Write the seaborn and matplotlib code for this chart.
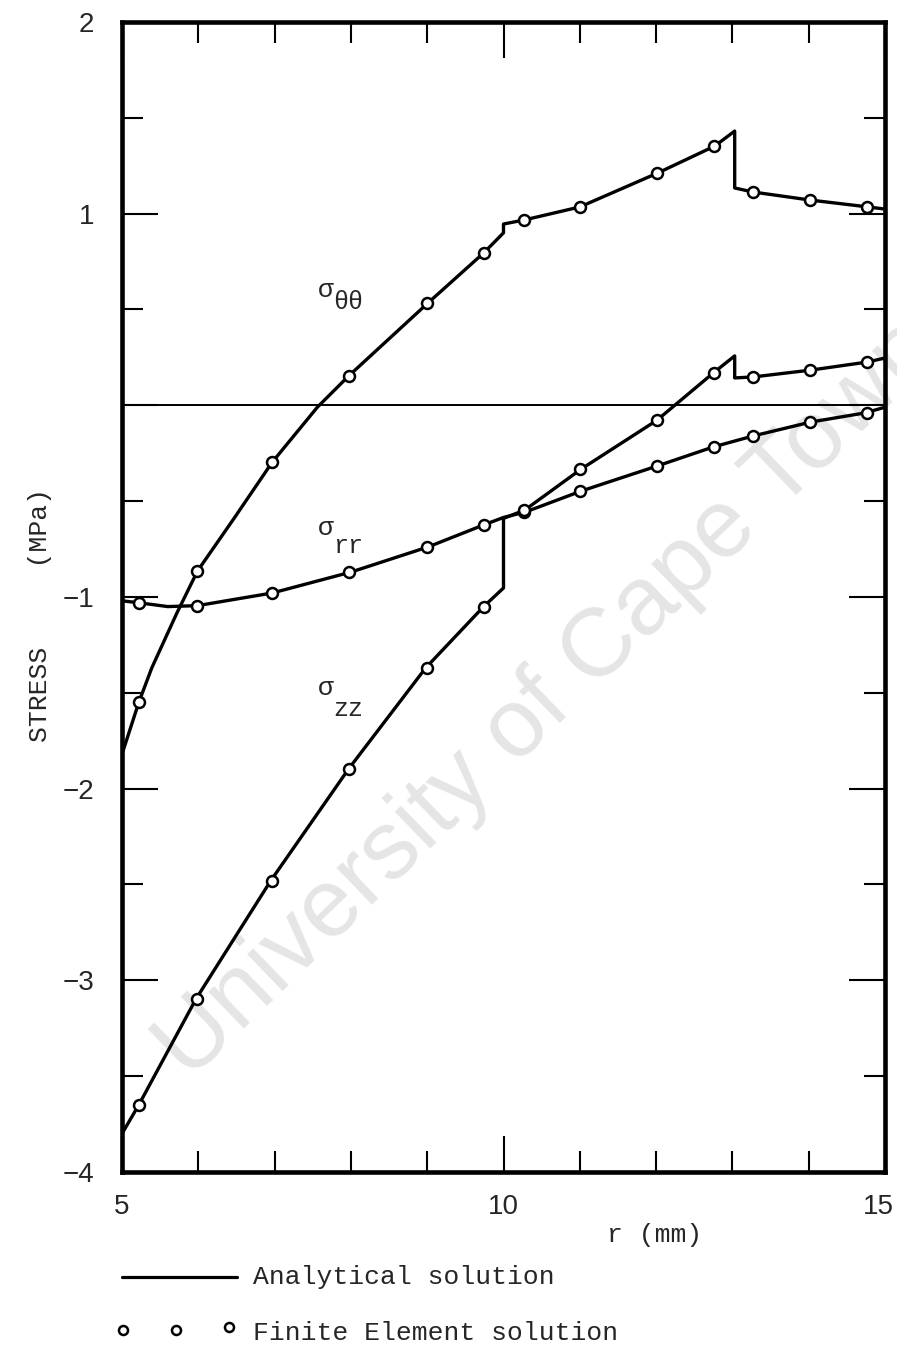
import numpy as np
import pandas as pd
import matplotlib
matplotlib.use("Agg")
import matplotlib.pyplot as plt
import seaborn as sns
from matplotlib.ticker import FixedLocator, MultipleLocator
from matplotlib.transforms import ScaledTranslation

# ---- analytical solution (r in mm, stress in MPa) ----
r_tt = [5.0, 5.22, 5.39, 5.72, 5.99, 6.48, 6.97, 7.56, 7.97, 9.01, 9.74, 10.0, 10.0,
        10.27, 11.0, 12.02, 12.77, 13.03, 13.03, 13.27, 14.02, 14.78, 15.0]
s_tt = [-1.82, -1.55, -1.37, -1.083, -0.864, -0.583, -0.296, -0.01, 0.153, 0.534, 0.795,
        0.90, 0.946, 0.967, 1.035, 1.212, 1.353, 1.431, 1.134, 1.113, 1.071, 1.035, 1.024]

r_rr = [5.0, 5.22, 5.6, 5.99, 6.97, 8.0, 9.01, 9.74, 10.0, 10.29, 11.02, 12.01, 12.75,
        13.27, 14.03, 14.73, 15.0]
s_rr = [-1.02, -1.03, -1.05, -1.045, -0.979, -0.87, -0.739, -0.624, -0.585, -0.556,
        -0.447, -0.317, -0.217, -0.16, -0.087, -0.04, -0.01]

r_zz = [5.0, 5.22, 5.97, 6.95, 7.97, 8.98, 9.74, 10.0, 10.0, 10.28, 11.02, 12.01, 12.75,
        13.03, 13.03, 13.27, 14.03, 14.77, 15.0]
s_zz = [-3.80, -3.65, -3.097, -2.48, -1.897, -1.37, -1.05, -0.953, -0.59, -0.546, -0.332,
        -0.078, 0.169, 0.258, 0.143, 0.148, 0.184, 0.226, 0.247]

# ---- finite element solution ----
r_fe = [5.22, 5.98, 6.97, 7.97, 9.0, 9.74, 10.27, 11.0, 12.01, 12.76, 13.27, 14.02, 14.77]
fe_tt = [-1.55, -0.864, -0.296, 0.153, 0.534, 0.795, 0.967, 1.035, 1.212, 1.353, 1.113,
         1.071, 1.035]
fe_rr = [-1.03, -1.047, -0.979, -0.87, -0.739, -0.624, -0.556, -0.447, -0.317, -0.217,
         -0.16, -0.087, -0.04]
fe_zz = [-3.65, -3.097, -2.48, -1.897, -1.37, -1.05, -0.546, -0.332, -0.078, 0.169, 0.148,
         0.184, 0.226]

y_ticks = [-4, -3, -2, -1, 0, 1, 2]
y_ticklabels = ["\u22124", "\u22123", "\u22122", "\u22121", "", "1", "2"]
x_ticks = [5, 10, 15]
x_ticklabels = ["5", "10", "15"]

sns.set_style("white")
plt.rcParams["font.family"] = ["Liberation Mono", "DejaVu Sans Mono"]
NUM_FONT = ["Liberation Sans Narrow", "Liberation Sans", "DejaVu Sans"]
MONO = ["Liberation Mono", "DejaVu Sans Mono"]

W, H = 897, 1350
fig = plt.figure(figsize=(W / 100, H / 100), dpi=100)
fig.patch.set_facecolor("white")
ax = fig.add_axes([122 / W, 1 - 1172 / H, (885 - 122) / W, (1172 - 22) / H])
ax.set_facecolor("white")

# analytical curves
for r, s in [(r_tt, s_tt), (r_rr, s_rr), (r_zz, s_zz)]:
    sns.lineplot(x=r, y=s, ax=ax, estimator=None, sort=False, color="black",
                 linewidth=2.4, zorder=2)

# finite element points
for fe in [fe_tt, fe_rr, fe_zz]:
    sns.scatterplot(x=r_fe, y=fe, ax=ax, marker="o", s=62, facecolor="white",
                    edgecolor="black", linewidth=1.8, zorder=3)

ax.axhline(0, color="black", linewidth=1.4, zorder=1)

ax.set_xlim(5, 15)
ax.set_ylim(-4, 2)
for sp in ax.spines.values():
    sp.set_linewidth(3.3)
    sp.set_color("black")

ax.xaxis.set_major_locator(FixedLocator(x_ticks))
ax.xaxis.set_minor_locator(MultipleLocator(1))
ax.yaxis.set_major_locator(FixedLocator(y_ticks))
ax.yaxis.set_minor_locator(MultipleLocator(0.5))
ax.set_xticklabels(x_ticklabels, fontfamily=NUM_FONT, fontsize=20)
ax.set_yticklabels(y_ticklabels, fontfamily=NUM_FONT, fontsize=20)
ax.tick_params(which="both", direction="in", bottom=True, left=True, top=True,
               right=True, width=1.5, color="black")
ax.tick_params(which="major", length=26)
ax.tick_params(which="minor", length=15)
ax.tick_params(axis="y", which="major", pad=20)
ax.tick_params(axis="x", which="major", pad=16)
ax.set_xlabel("")
ax.set_ylabel("")
# pull the last r label slightly inward so it stays on the sheet
last = ax.xaxis.get_major_ticks()[-1].label1
last.set_transform(last.get_transform() + ScaledTranslation(-0.07, 0, fig.dpi_scale_trans))

# curve labels
for (xs, ys, sub, yb) in [(7.57, 0.60, "\u03b8\u03b8", 0.54),
                          (7.57, -0.64, "rr", -0.734),
                          (7.57, -1.475, "zz", -1.584)]:
    ax.text(xs, ys, "\u03c3", fontfamily=MONO, fontsize=19, ha="left", va="center",
            zorder=4)
    ax.text(xs + 0.2, yb, sub, fontfamily=MONO, fontsize=18, ha="left", va="center",
            zorder=4)

# faint diagonal watermark
ax.text(548 / W, 1 - 700 / H, "University of Cape Town", transform=fig.transFigure,
        fontfamily=["Liberation Sans", "DejaVu Sans"], fontsize=70, color="#e5e5e5",
        rotation=44, rotation_mode="anchor", ha="center", va="center", zorder=0.5,
        clip_on=False)

# axis titles
fig.text(40 / W, 1 - 615 / H, "STRESS     (MPa)", rotation=90, ha="center", va="center",
         fontfamily=MONO, fontsize=19)
fig.text(655 / W, 1 - 1235 / H, "r (mm)", ha="center", va="center",
         fontfamily=MONO, fontsize=19)

# key below the plot, laid out in pixel units
lax = fig.add_axes([0, 0, 1, 1])
lax.set_xlim(0, W)
lax.set_ylim(H, 0)
lax.set_axis_off()
lax.plot([122, 237], [1277, 1277], color="black", linewidth=2.3)
lax.text(253, 1277, "Analytical solution", fontfamily=MONO, fontsize=19,
         ha="left", va="center")
lax.plot([123, 176, 229], [1330, 1330, 1327], linestyle="none", marker="o",
         markersize=6.5, markerfacecolor="white", markeredgecolor="black",
         markeredgewidth=1.8)
lax.text(253, 1333, "Finite Element solution", fontfamily=MONO, fontsize=19,
         ha="left", va="center")

fig.savefig("out.png", dpi=100, facecolor="white")
